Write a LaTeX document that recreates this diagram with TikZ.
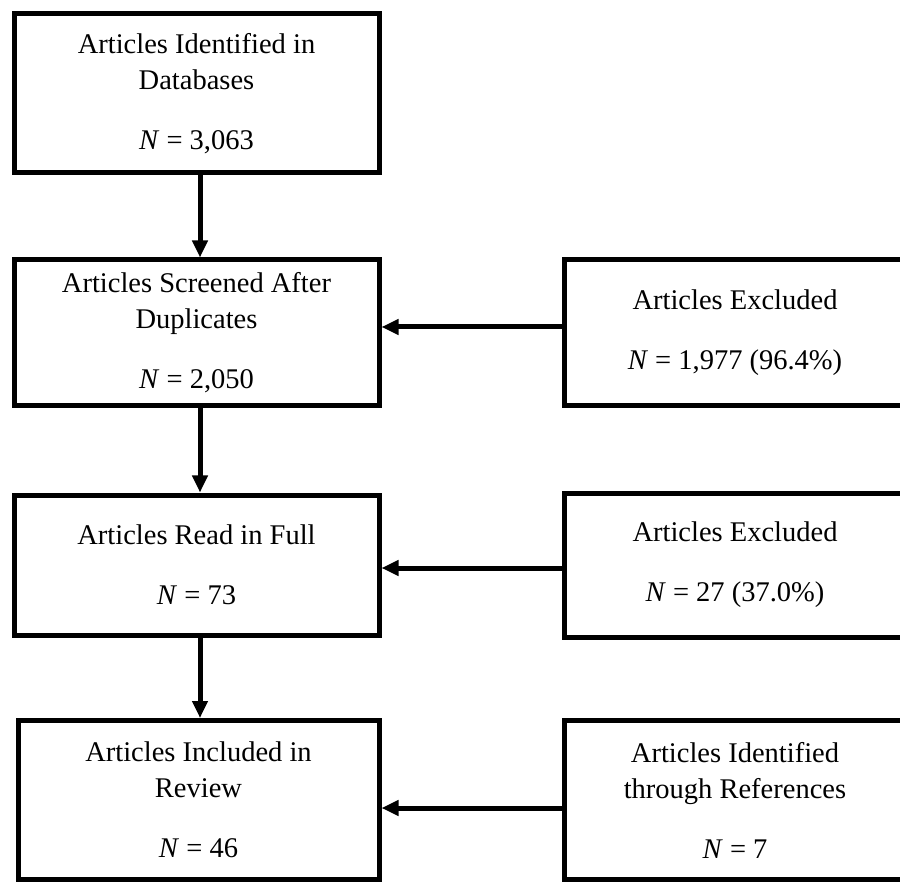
\documentclass[tikz,border=0pt]{standalone}
\usepackage{fontspec}
\setmainfont{Liberation Serif}
\usetikzlibrary{arrows.meta}
\tikzset{
    every node/.style={rectangle, draw, line width=5pt, inner sep=0mm, align=center,
        font=\fontsize{28.5}{36}\selectfont}
}
\tikzset{flow/.style={line width=5pt, -{Triangle[length=17pt, width=15pt]}}}

\begin{document}
\begin{tikzpicture}[x=1pt, y=-1pt]
    \useasboundingbox (0,0) rectangle (900,882);

    \node (ident) at (196.5, 93.5) [minimum width=365, minimum height=159]
        {Articles Identified in\\ Databases\\[24pt] \textit{N} = 3,063};
    \node (screen) at (196.5, 333) [minimum width=365, minimum height=146]
        {Articles Screened After\\ Duplicates\\[24pt] \textit{N} = 2,050};
    \node (full) at (196.5, 565) [minimum width=365, minimum height=140]
        {Articles Read in Full\\[24pt] \textit{N} = 73};
    \node (incl) at (198.5, 800) [minimum width=361, minimum height=159]
        {Articles Included in\\ Review\\[24pt] \textit{N} = 46};

    \node (excla) at (735, 333) [minimum width=342, minimum height=146]
        {Articles Excluded\\[24pt] \textit{N} = 1,977 (96.4\%)};
    \node (exclb) at (735, 565) [minimum width=342, minimum height=144]
        {Articles Excluded\\[24pt] \textit{N} = 27 (37.0\%)};
    \node (refs) at (735, 800) [minimum width=342, minimum height=159]
        {Articles Identified\\ through References\\[24pt] \textit{N} = 7};

    \draw ([xshift=3.5pt]ident.south) edge[flow] ([xshift=3.5pt]screen.north);
    \draw ([xshift=3.5pt]screen.south) edge[flow] ([xshift=3.5pt]full.north);
    \draw ([xshift=3.5pt]full.south) edge[flow] ([xshift=3.5pt]full.south |- incl.north);
    \draw ([yshift=6pt]excla.west) edge[flow] ([yshift=6pt]screen.east);
    \draw ([yshift=-3pt]exclb.west) edge[flow] ([yshift=-3pt]full.east);
    \draw ([yshift=-8pt]refs.west) edge[flow] ([yshift=-8pt]incl.east);
\end{tikzpicture}
\end{document}
